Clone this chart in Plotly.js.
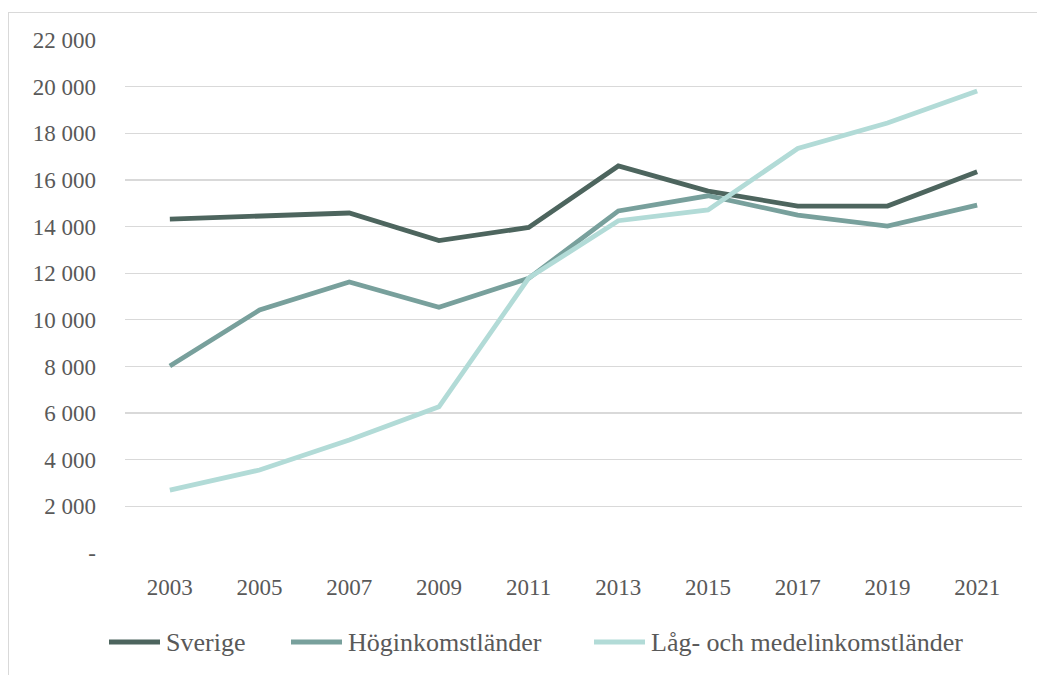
<!DOCTYPE html>
<html>
<head>
<meta charset="utf-8">
<script src="https://cdn.plot.ly/plotly-3.0.1.min.js"></script>
<style>
  html, body { margin: 0; padding: 0; background: #fff; }
  #chart { position: absolute; left: 0; top: 0; width: 1037px; height: 675px; }
  #frame { position: absolute; left: 8px; top: 12px; width: 1040px; height: 700px;
           border-left: 1.5px solid #d9d9d9; border-top: 1.5px solid #d9d9d9; pointer-events: none; }
</style>
</head>
<body>
<div id="chart"></div>
<div id="frame"></div>
<script>
const years = ["2003","2005","2007","2009","2011","2013","2015","2017","2019","2021"];
const sverige = [14320, 14450, 14580, 13400, 13960, 16600, 15520, 14880, 14880, 16350];
const hoginkomst = [8020, 10420, 11620, 10540, 11780, 14670, 15320, 14490, 14020, 14920];
const lagMedel = [2700, 3560, 4850, 6270, 11790, 14250, 14710, 17350, 18440, 19810];
const seriesNames = ["Sverige", "Höginkomstländer", "Låg- och medelinkomstländer"];
const yTickVals = [0, 2000, 4000, 6000, 8000, 10000, 12000, 14000, 16000, 18000, 20000, 22000];
const yTickText = ["-", "2 000", "4 000", "6 000", "8 000", "10 000", "12 000", "14 000", "16 000", "18 000", "20 000", "22 000"];

const colors = ["#4d655e", "#78a09c", "#b2dbd7"];
const font = "'Liberation Serif', 'DejaVu Serif', serif";
const textColor = "#595959";

const data = [sverige, hoginkomst, lagMedel].map((vals, i) => ({
  x: years, y: vals, name: seriesNames[i], type: "scatter", mode: "lines",
  line: { color: colors[i], width: 4.8, shape: "linear" }, showlegend: false
}));

// custom legend (long line keys, as in the reference)
const plotLeft = 125, plotWidth = 897, plotBottom = 553, plotHeight = 513;
const legendStartsPx = [107, 289, 592];
const keyLen = 55, legendYPx = 642;
const px2x = p => (p - plotLeft) / plotWidth;
const legY = (plotBottom - legendYPx) / plotHeight;
const shapes = seriesNames.map((n, i) => ({
  type: "line", xref: "paper", yref: "paper",
  x0: px2x(legendStartsPx[i] + 2), x1: px2x(legendStartsPx[i] + keyLen - 2), y0: legY, y1: legY,
  line: { color: colors[i], width: 5 }
}));
const annotations = seriesNames.map((n, i) => ({
  text: n, xref: "paper", yref: "paper", x: px2x(legendStartsPx[i] + keyLen + 2), y: legY,
  xanchor: "left", yanchor: "middle", showarrow: false,
  font: { family: font, size: 26, color: textColor }
}));

const layout = {
  width: 1037, height: 675,
  margin: { l: 125, r: 15, t: 40, b: 122 },
  paper_bgcolor: "#fff", plot_bgcolor: "#fff",
  font: { family: font, color: textColor, size: 23 },
  xaxis: {
    type: "category", range: [-0.5, 9.5], showgrid: false, zeroline: false,
    showline: false, ticks: "", ticklabelstandoff: 18,
    tickfont: { family: font, size: 23, color: textColor }
  },
  yaxis: {
    range: [0, 22000], tickvals: yTickVals, ticktext: yTickText,
    showgrid: true, gridcolor: "#d9d9d9", gridwidth: 1.3, zeroline: false,
    showline: false, ticks: "", ticklabelstandoff: 28,
    tickfont: { family: font, size: 23, color: textColor }
  },
  showlegend: false,
  shapes: shapes,
  annotations: annotations,
  hovermode: false
};

Plotly.newPlot("chart", data, layout, { displayModeBar: false, staticPlot: true });
</script>
</body>
</html>
